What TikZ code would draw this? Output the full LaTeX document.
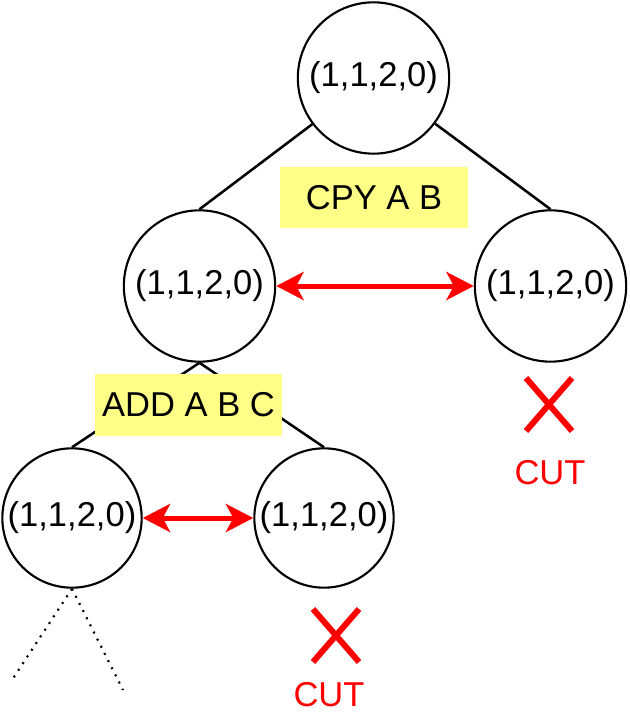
\documentclass[tikz,border=0pt]{standalone}
\usepackage{fontspec}
\setmainfont{Liberation Sans}
\usetikzlibrary{arrows.meta}
\definecolor{boxyellow}{HTML}{FFFF88}
\definecolor{cutred}{HTML}{FF0000}
\begin{document}
\begin{tikzpicture}[x=0.75pt,y=-0.75pt,
  every node/.style={font=\fontsize{25.9}{31}\selectfont},
  bigstate/.style={circle,draw=black,line width=1.6pt,minimum size=113.5pt,inner sep=0pt,fill=white},
  smallstate/.style={circle,draw=black,line width=1.6pt,minimum size=104.5pt,inner sep=0pt,fill=white},
  edge/.style={draw=black,line width=1.9pt},
  oplabel/.style={rectangle,fill=boxyellow,draw=none,inner sep=0pt},
  dupe/.style={draw=cutred,line width=3.75pt,{Stealth[length=20.5pt,width=21pt,inset=5.5pt]}-{Stealth[length=20.5pt,width=21pt,inset=5.5pt]}},
  xmark/.style={draw=cutred,line width=4.5pt},
  cutlabel/.style={text=cutred,inner sep=0pt},
  dotline/.style={draw=black,line width=1.6pt,dash pattern=on 1.5pt off 4.5pt}
]
\useasboundingbox (0,0) rectangle (629,716);

% tree edges (drawn first, under the states)
\node[bigstate] (top) at (373.5,78) {(1,1,2,0)};
\node[bigstate] (ml) at (199.5,286) {(1,1,2,0)};
\node[bigstate] (mr) at (550.5,286) {(1,1,2,0)};
\node[smallstate] (bl) at (72,518) {(1,1,2,0)};
\node[smallstate] (bm) at (324,518) {(1,1,2,0)};

\draw[edge] (top) -- (ml.north);
\draw[edge] (top) -- (mr.north);
\draw[edge] (ml.south) -- (bl.north);
\draw[edge] (ml.south) -- (bm.north);

% operation labels
\node[oplabel,minimum width=141pt,minimum height=45.75pt] (cpy) at (374,197.5) {CPY A B};
\node[oplabel,minimum width=140.25pt,minimum height=46.5pt] (add) at (188.5,405) {ADD A B C};

% duplicate arrows
\draw[dupe] (ml) -- (mr);
\draw[dupe] (bl) -- (bm);

% cut marks
\draw[xmark] (526,378) -- (572,431);
\draw[xmark] (572,378) -- (526,431);
\node[cutlabel] (cut1) at (550,472.5) {CUT};

\draw[xmark] (313,609) -- (359,662);
\draw[xmark] (359,609) -- (313,662);
\node[cutlabel] (cut2) at (329,695) {CUT};

% continuation
\coordinate (d1) at (12,680);
\coordinate (d2) at (123,690);
\draw[dotline] (bl.south) -- (d1);
\draw[dotline] (bl.south) -- (d2);
\end{tikzpicture}
\end{document}
